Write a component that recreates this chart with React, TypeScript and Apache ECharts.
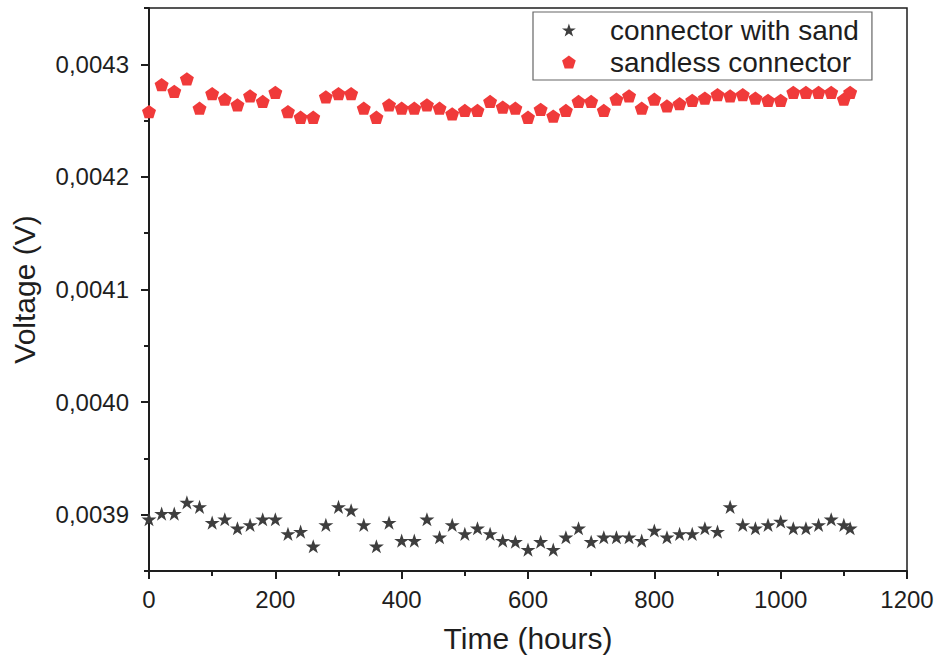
import React, { useEffect, useRef } from "react";
import * as echarts from "echarts";

// Time axis samples (hours)
const hours: number[] = [
  0, 20, 40, 60, 80, 100, 120, 140, 160, 180, 200, 220, 240, 260, 280, 300, 320, 340, 360, 380,
  400, 420, 440, 460, 480, 500, 520, 540, 560, 580, 600, 620, 640, 660, 680, 700, 720, 740, 760, 780,
  800, 820, 840, 860, 880, 900, 920, 940, 960, 980, 1000, 1020, 1040, 1060, 1080, 1100, 1110,
];

// Voltage of the connector buried in sand (V)
const withSand: number[] = [
  0.003896, 0.003901, 0.003901, 0.003911, 0.003907, 0.003893, 0.003896, 0.003888, 0.003891, 0.003896,
  0.003896, 0.003883, 0.003885, 0.003872, 0.003891, 0.003907, 0.003904, 0.003891, 0.003872, 0.003893,
  0.003877, 0.003877, 0.003896, 0.00388, 0.003891, 0.003883, 0.003888, 0.003883, 0.003877, 0.003876,
  0.003869, 0.003876, 0.003869, 0.00388, 0.003888, 0.003876, 0.00388, 0.00388, 0.00388, 0.003877,
  0.003886, 0.00388, 0.003883, 0.003883, 0.003888, 0.003885, 0.003907, 0.003891, 0.003888, 0.003891,
  0.003894, 0.003888, 0.003888, 0.003891, 0.003896, 0.003891, 0.003888,
];

// Voltage of the sandless connector (V)
const sandless: number[] = [
  0.004258, 0.004282, 0.004276, 0.004287, 0.004261, 0.004274, 0.004269, 0.004264, 0.004272, 0.004267,
  0.004275, 0.004258, 0.004253, 0.004253, 0.004271, 0.004274, 0.004274, 0.004261, 0.004253, 0.004264,
  0.004261, 0.004261, 0.004264, 0.004261, 0.004256, 0.004259, 0.004259, 0.004267, 0.004262, 0.004261,
  0.004253, 0.00426, 0.004254, 0.004259, 0.004267, 0.004267, 0.004259, 0.004269, 0.004272, 0.004261,
  0.004269, 0.004263, 0.004265, 0.004268, 0.00427, 0.004273, 0.004272, 0.004273, 0.00427, 0.004268,
  0.004268, 0.004275, 0.004275, 0.004275, 0.004275, 0.004269, 0.004275,
];

const seriesNames = ["connector with sand", "sandless connector"];
const yMajorTicks: number[] = [0.0039, 0.004, 0.0041, 0.0042, 0.0043];
const yMinorTicks: number[] = [0.00385, 0.00395, 0.00405, 0.00415, 0.00425, 0.00435];

const STAR =
  "path://M50,0 L61.8,35.1 L98.9,35.1 L68.8,57 L80.2,92.1 L50,70.4 L19.8,92.1 L31.2,57 L1.1,35.1 L38.2,35.1 Z";
const PENTAGON = "path://M50,0 L97.6,34.5 L79.4,90.5 L20.6,90.5 L2.4,34.5 Z";

const FONT = "Liberation Sans, Arial, sans-serif";
const INK = "#1e1e1e";

export default function App() {
  const ref = useRef<HTMLDivElement>(null);

  useEffect(() => {
    if (!ref.current) return;
    const chart = echarts.init(ref.current, undefined, { renderer: "svg" });

    const fmt = (v: number) => v.toFixed(4).replace(".", ",");

    chart.setOption({
      animation: false,
      backgroundColor: "#ffffff",
      textStyle: { fontFamily: FONT },
      grid: {
        left: 149,
        right: 33,
        top: 8,
        bottom: 93,
        show: true,
        borderColor: INK,
        borderWidth: 1.5,
      },
      legend: {
        orient: "vertical",
        left: 533,
        top: 12,
        data: seriesNames,
        itemWidth: 14,
        itemHeight: 13,
        itemGap: 2,
        padding: [3, 13, 3, 29],
        borderColor: "#666666",
        borderWidth: 1.2,
        backgroundColor: "#ffffff",
        selectedMode: false,
        textStyle: {
          fontSize: 28,
          lineHeight: 30,
          color: INK,
          fontFamily: FONT,
          padding: [0, 0, 0, 29],
        },
      },
      xAxis: {
        type: "value",
        min: 0,
        max: 1200,
        interval: 200,
        name: "Time (hours)",
        nameLocation: "middle",
        nameGap: 52,
        nameTextStyle: { fontSize: 30, color: INK, fontFamily: FONT },
        axisLine: { show: true, onZero: false, lineStyle: { color: INK, width: 2 } },
        axisTick: { show: true, inside: false, length: 8, lineStyle: { color: INK, width: 2 } },
        minorTick: { show: true, splitNumber: 2, length: 5, lineStyle: { color: INK, width: 2 } },
        axisLabel: {
          fontSize: 24,
          color: INK,
          margin: 16,
          fontFamily: FONT,
          formatter: (v: number) => String(v),
        },
        splitLine: { show: false },
      },
      yAxis: [
        {
          type: "value",
          min: 0.00385,
          max: 0.00435,
          name: "Voltage (V)",
          nameLocation: "middle",
          nameGap: 110,
          nameTextStyle: { fontSize: 30, color: INK, fontFamily: FONT },
          axisLine: { show: true, onZero: false, lineStyle: { color: INK, width: 2 } },
          axisTick: {
            show: true,
            inside: false,
            length: 8,
            customValues: yMajorTicks,
            lineStyle: { color: INK, width: 2 },
          },
          axisLabel: {
            fontSize: 24,
            color: INK,
            margin: 20,
            fontFamily: FONT,
            customValues: yMajorTicks,
            formatter: (v: number) => fmt(v),
          },
          splitLine: { show: false },
        },
        {
          type: "value",
          min: 0.00385,
          max: 0.00435,
          position: "left",
          axisLine: { show: false },
          axisTick: {
            show: true,
            inside: false,
            length: 5,
            customValues: yMinorTicks,
            lineStyle: { color: INK, width: 2 },
          },
          axisLabel: { show: false },
          splitLine: { show: false },
        },
      ],
      series: [
        {
          name: seriesNames[0],
          type: "scatter",
          symbol: STAR,
          symbolSize: 15,
          symbolKeepAspect: true,
          itemStyle: { color: "#3e3e3e", opacity: 1 },
          data: hours.map((h, i) => [h, withSand[i]]),
        },
        {
          name: seriesNames[1],
          type: "scatter",
          symbol: PENTAGON,
          symbolSize: 14,
          symbolKeepAspect: true,
          itemStyle: { color: "#F03A3A", opacity: 1 },
          data: hours.map((h, i) => [h, sandless[i]]),
        },
      ],
    });

    return () => chart.dispose();
  }, []);

  return (
    <div
      ref={ref}
      style={{ position: "fixed", left: 0, top: 0, width: 940, height: 664, background: "#fff" }}
    />
  );
}
